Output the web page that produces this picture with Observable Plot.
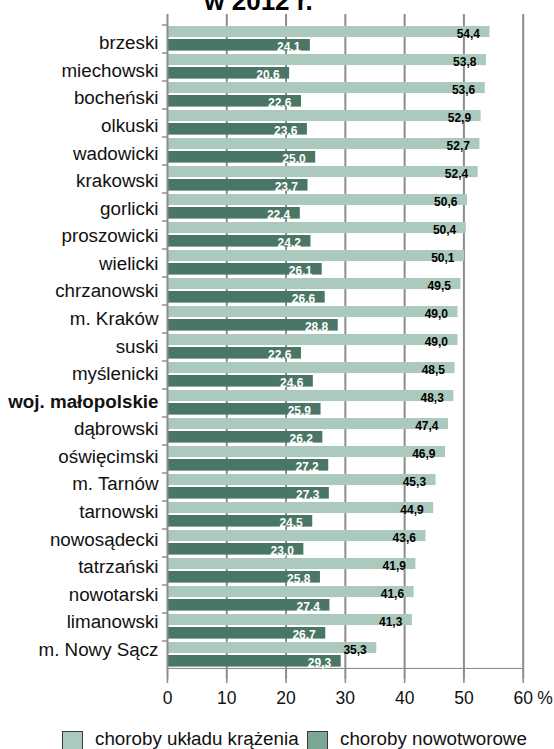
<!DOCTYPE html>
<html>
<head>
<meta charset="utf-8">
<script src="https://cdn.jsdelivr.net/npm/d3@7"></script>
<script src="https://cdn.jsdelivr.net/npm/@observablehq/plot@0.6"></script>
<style>
  html, body { margin: 0; padding: 0; background: #fff; }
  body { position: relative; width: 554px; height: 749px; overflow: hidden; font-family: "Liberation Sans", Arial, sans-serif; }
  #chart svg { display: block; }
  .sw { position: absolute; width: 21px; height: 21px; border: 1px solid #3a3a3a; box-sizing: border-box; }
  .lg { position: absolute; font-size: 18.8px; line-height: 18.8px; color: #111; white-space: nowrap; }
</style>
</head>
<body>
<div id="chart"></div>
<div class="sw" style="left:62px; top:731px; background:#abc9bc;"></div>
<div class="lg" style="left:95px; top:729.6px;">choroby układu krążenia</div>
<div class="sw" style="left:307px; top:731px; background:#7aa894;"></div>
<div class="lg" style="left:340px; top:729.6px;">choroby nowotworowe</div>
<script>
const title = "w 2012 r.";
const categories = ["brzeski","miechowski","bocheński","olkuski","wadowicki","krakowski","gorlicki","proszowicki","wielicki","chrzanowski","m. Kraków","suski","myślenicki","woj. małopolskie","dąbrowski","oświęcimski","m. Tarnów","tarnowski","nowosądecki","tatrzański","nowotarski","limanowski","m. Nowy Sącz"];
const circulatory = [54.4,53.8,53.6,52.9,52.7,52.4,50.6,50.4,50.1,49.5,49.0,49.0,48.5,48.3,47.4,46.9,45.3,44.9,43.6,41.9,41.6,41.3,35.3];
const cancer = [24.1,20.6,22.6,23.6,25.0,23.7,22.4,24.2,26.1,26.6,28.8,22.6,24.6,25.9,26.2,27.2,27.3,24.5,23.0,25.8,27.4,26.7,29.3];
const xTicks = [0,10,20,30,40,50,60];
const boldCategory = "woj. małopolskie";
const unitLabel = "%";

const rows = categories.map((c, i) => ({cat: c, circ: circulatory[i], canc: cancer[i]}));
const fmt = v => v.toFixed(1).replace(".", ",");

const W = 554, H = 720, mL = 167, mR = 31.3, mT = 14, mB = 41;
const bw = (H - mT - mB) / categories.length;
const light = "#abc9bc", dark = "#4a7765", gray = "#8c8c8c";
const labelSize = 18.8;

const labelMarks = categories.map((c, i) => Plot.text([c], {
  y: d => d, frameAnchor: "left", textAnchor: "end", lineAnchor: "middle",
  dx: -9, dy: 3.72 - 0.423 * i, fontSize: labelSize,
  fontWeight: c === boldCategory ? "bold" : "normal", fill: "#111"
}));

const chart = Plot.plot({
  width: W, height: H,
  marginLeft: mL, marginRight: mR, marginTop: mT, marginBottom: mB,
  style: {fontFamily: "'Liberation Sans', Arial, sans-serif", fontSize: "17px", background: "transparent", overflow: "visible", color: "#111"},
  x: {domain: [0, 60]},
  y: {domain: categories, padding: 0, axis: null},
  marks: [
    Plot.gridX({ticks: xTicks.slice(1), stroke: gray, strokeOpacity: 1, strokeWidth: 2}),
    Plot.barX(rows, {x: "circ", y: "cat", fill: light, insetTop: 1, insetBottom: bw - 13}),
    Plot.barX(rows, {x: "canc", y: "cat", fill: dark, insetTop: 14, insetBottom: 2.4}),
    Plot.ruleX([0], {stroke: gray, strokeWidth: 2}),
    Plot.barX([categories[categories.length - 1]], {x1: 0, x2: 60, y: d => d, fill: gray, insetTop: bw - 2}),
    Plot.axisY({tickSize: 5, tickFormat: () => "", dy: -bw / 2, stroke: gray, strokeWidth: 1.5, label: null}),
    Plot.axisX({ticks: xTicks, tickSize: 4, tickPadding: 8, stroke: gray, strokeWidth: 1.5, fontSize: 17.5, label: null, fill: "#111"}),
    Plot.text([unitLabel], {x: () => 60, frameAnchor: "bottom", lineAnchor: "top", textAnchor: "start", dx: 14, dy: 12, fontSize: 17.5, fill: "#111"}),
    Plot.text(rows, {x: "circ", y: "cat", text: d => fmt(d.circ), textAnchor: "end", lineAnchor: "middle", dx: -10, dy: -5.6, fontWeight: "bold", fontSize: 12, fill: "#000"}),
    Plot.text(rows, {x: "canc", y: "cat", text: d => fmt(d.canc), textAnchor: "end", lineAnchor: "middle", dx: -10, dy: 7.2, fontWeight: "bold", fontSize: 12, fill: "#fff"}),
    ...labelMarks,
    Plot.text([title], {frameAnchor: "top", lineAnchor: "middle", dx: 258 - (mL + (W - mR)) / 2, dy: -12.8, fontSize: 26, fontWeight: "bold", fill: "#000"})
  ]
});
document.getElementById("chart").appendChild(chart);
</script>
</body>
</html>
